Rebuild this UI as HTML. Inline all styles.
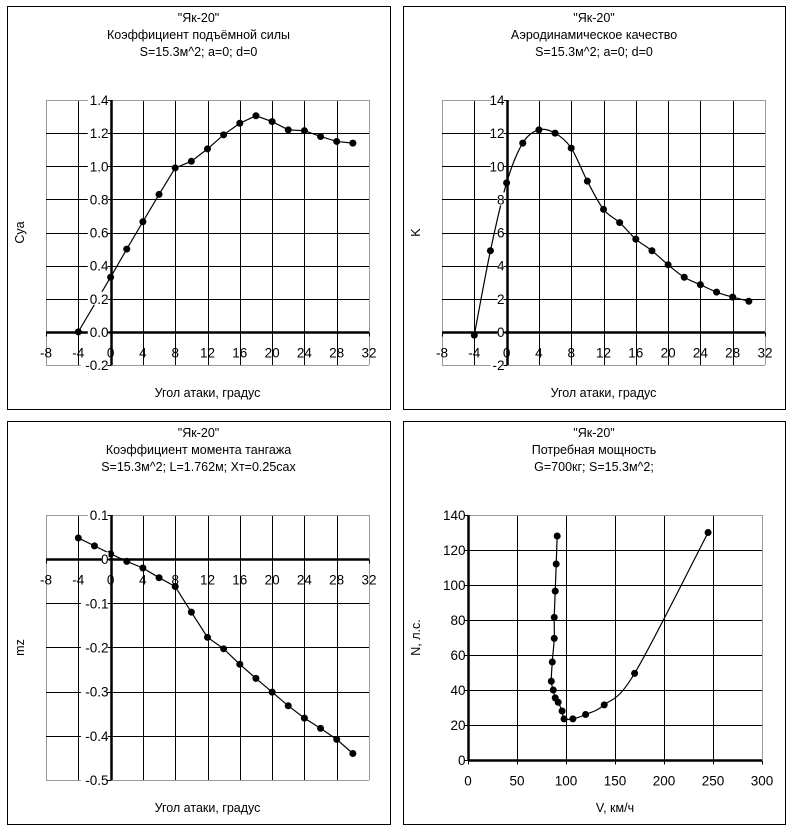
<!DOCTYPE html>
<html><head><meta charset="utf-8"><style>
body{margin:0;background:#fff}
svg{display:block;font-family:"Liberation Sans",Arial,sans-serif;font-size:12.5px}
</style></head><body>
<svg id="s" width="796" height="831" xmlns="http://www.w3.org/2000/svg"></svg>
<script>
const S=document.getElementById('s');let h='';
function cr(pts){let d='M'+pts[0][0]+','+pts[0][1];for(let i=0;i<pts.length-1;i++){const p0=pts[i-1]||pts[i],p1=pts[i],p2=pts[i+1],p3=pts[i+2]||p2;d+=' C'+(p1[0]+(p2[0]-p0[0])/6)+','+(p1[1]+(p2[1]-p0[1])/6)+' '+(p2[0]-(p3[0]-p1[0])/6)+','+(p2[1]-(p3[1]-p1[1])/6)+' '+p2[0]+','+p2[1];}return d;}
function panel(o){
 const [bx,by,bw,bh]=o.box;
 h+=`<rect x="${bx+.5}" y="${by+.5}" width="${bw}" height="${bh}" fill="none" stroke="#000"/>`;
 const cx=bx+bw/2;
 o.title.forEach((t,i)=>h+=`<text x="${cx}" y="${by+16+i*17}" text-anchor="middle">${t}</text>`);
 const X=v=>o.x0+(v-o.xmin)*o.xs, Y=v=>o.y0-(v-o.ymin)*o.ys;
 const L=X(o.xmin),R=X(o.xmax),T=Y(o.ymax),B=Y(o.ymin);
 for(let v=o.xmin;v<=o.xmax+1e-9;v+=o.xst){const x=Math.round(X(v))+.5;h+=`<line x1="${x}" y1="${T}" x2="${x}" y2="${B}" stroke="${(v==o.xmin||v==o.xmax)?'#999':'#000'}"/>`;}
 for(let v=o.ymin;v<=o.ymax+1e-9;v+=o.yst){const y=Math.round(Y(v))+.5;h+=`<line x1="${L}" y1="${y}" x2="${R}" y2="${y}" stroke="${(Math.abs(v-o.ymin)<1e-9||Math.abs(v-o.ymax)<1e-9)?'#999':'#000'}"/>`;}
 const ax=Math.round(X(o.ax))+.5, ay=Math.round(Y(o.ay))+.5;
 h+=`<line x1="${ax}" y1="${T}" x2="${ax}" y2="${B}" stroke="#000" stroke-width="2.5"/>`;
 h+=`<line x1="${L}" y1="${ay}" x2="${R}" y2="${ay}" stroke="#000" stroke-width="2.5"/>`;
 for(let v=o.xmin;v<=o.xmax+1e-9;v+=o.xst){const x=Math.round(X(v))+.5;h+=`<line x1="${x}" y1="${ay}" x2="${x}" y2="${ay+4}" stroke="#000"/>`;}
 const pts=o.data.map(p=>[X(p[0]),Y(p[1])]);
 h+= o.smooth?`<path d="${cr(pts)}" fill="none" stroke="#000" stroke-width="1.2"/>`:`<polyline points="${pts.map(p=>p.join(',')).join(' ')}" fill="none" stroke="#000" stroke-width="1.2"/>`;
 pts.forEach(p=>h+=`<circle cx="${p[0]}" cy="${p[1]}" r="3.5" fill="#000"/>`);
 for(let v=o.ymin;v<=o.ymax+1e-9;v+=o.yst){const t=o.yf(v);const y=Y(v);const w=t.length*6.9;h+=`<rect x="${ax-3-w}" y="${y-7}" width="${w}" height="13" fill="#fff"/><line x1="${ax-4}" y1="${Math.round(y)+.5}" x2="${ax}" y2="${Math.round(y)+.5}" stroke="#000"/><text x="${ax-3}" y="${y+5}" text-anchor="end" font-size="13.5">${t}</text>`;}
 for(let v=o.xmin;v<=o.xmax+1e-9;v+=o.xst){const x=X(v);h+=`<text x="${x}" y="${ay+o.xly}" text-anchor="middle" font-size="13.5">${v}</text>`;}
 h+=`<text x="${bx+17}" y="${(T+B)/2}" text-anchor="middle" transform="rotate(-90 ${bx+17} ${(T+B)/2})">${o.yl}</text>`;
 h+=`<text x="${(L+R)/2}" y="${by+bh-12}" text-anchor="middle">${o.xl}</text>`;
}
const f1=v=>(Math.abs(v)<1e-9?0:v).toFixed(1);
panel({box:[7,6,383,403],title:['"Як-20"','Коэффициент подъёмной силы','S=15.3м^2; a=0; d=0'],
 x0:46,xmin:-8,xmax:32,xs:8.075,xst:4,y0:365,ymin:-0.2,ymax:1.4,ys:165.6,yst:0.2,ax:0,ay:0,yf:f1,xly:25,yl:'Cya',xl:'Угол атаки, градус',
 data:[[-4,0],[0,.33],[2,.5],[4,.665],[6,.83],[8,.99],[10,1.03],[12,1.105],[14,1.19],[16,1.26],[18,1.305],[20,1.27],[22,1.22],[24,1.215],[26,1.18],[28,1.15],[30,1.14]]});
panel({box:[403,6,382,403],title:['"Як-20"','Аэродинамическое качество','S=15.3м^2; a=0; d=0'],
 x0:442,xmin:-8,xmax:32,xs:8.075,xst:4,y0:365,ymin:-2,ymax:14,ys:16.56,yst:2,ax:0,ay:0,yf:v=>String(Math.round(v)),xly:25,yl:'K',xl:'Угол атаки, градус',smooth:1,
 data:[[-4,-0.2],[-2,4.9],[0,9],[2,11.4],[4,12.2],[6,12],[8,11.1],[10,9.1],[12,7.4],[14,6.6],[16,5.6],[18,4.9],[20,4.05],[22,3.3],[24,2.85],[26,2.4],[28,2.1],[30,1.85]]});
panel({box:[7,421,383,403],title:['"Як-20"','Коэффициент момента тангажа','S=15.3м^2; L=1.762м; Xт=0.25сах'],
 x0:46,xmin:-8,xmax:32,xs:8.075,xst:4,y0:780,ymin:-0.5,ymax:0.1,ys:441.7,yst:0.1,ax:0,ay:0,yf:v=>Math.abs(v)<1e-9?'0':v.toFixed(1),xly:25,yl:'mz',xl:'Угол атаки, градус',
 data:[[-4,.048],[-2,.03],[0,.012],[2,-.005],[4,-.02],[6,-.042],[8,-.062],[10,-.12],[12,-.177],[14,-.203],[16,-.238],[18,-.27],[20,-.301],[22,-.332],[24,-.36],[26,-.383],[28,-.408],[30,-.44]]});
panel({box:[403,421,382,403],title:['"Як-20"','Потребная мощность','G=700кг; S=15.3м^2;'],
 x0:468,xmin:0,xmax:300,xs:0.98,xst:50,y0:760,ymin:0,ymax:140,ys:1.75,yst:20,ax:0,ay:0,yf:v=>String(Math.round(v)),xly:25,yl:'N, л.с.',xl:'V, км/ч',smooth:1,
 data:[[91,128],[90,112],[89,96.5],[88,81.5],[88,69.5],[86,56],[85,45],[87,40],[89,35.5],[92,33],[96,28],[98,23.5],[107,23.5],[120,26],[139,31.5],[170,49.5],[245,130]]});
S.innerHTML=h;
</script>
</body></html>
